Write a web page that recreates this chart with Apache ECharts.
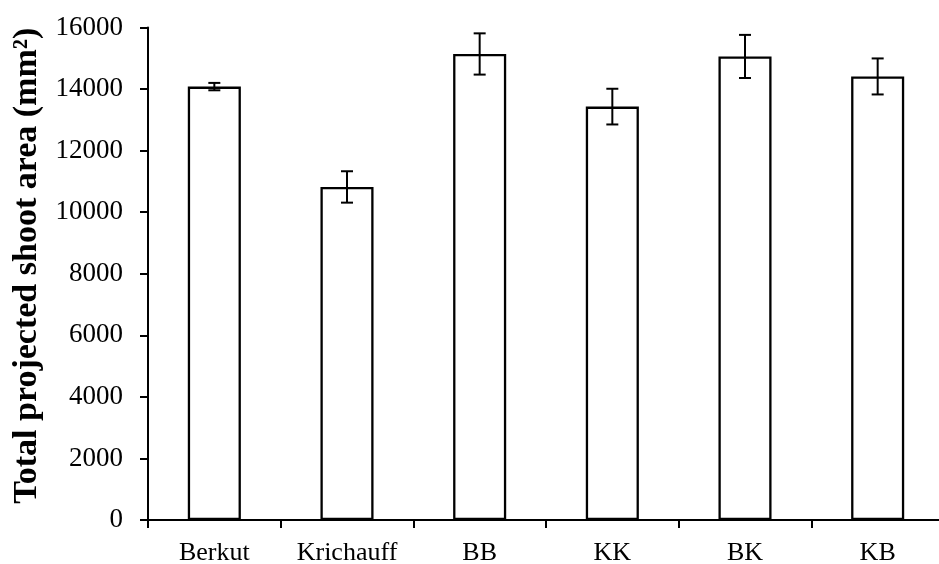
<!DOCTYPE html>
<html>
<head>
<meta charset="utf-8">
<script src="https://cdn.jsdelivr.net/npm/echarts@6/dist/echarts.min.js"></script>
<style>html,body{margin:0;padding:0;background:#fff}#c{width:939px;height:564px}</style>
</head>
<body>
<div id="c"></div>
<script>
const categories = ['Berkut', 'Krichauff', 'BB', 'KK', 'BK', 'KB'];
const means = [14080, 10820, 15140, 13430, 15060, 14410];
const errors = [120, 510, 670, 580, 700, 585];
const yTicks = { min: 0, max: 16000, interval: 2000 };

const chart = echarts.init(document.getElementById('c'));
const font = '"Liberation Serif", "Times New Roman", serif';
chart.setOption({
  animation: false,
  grid: { left: 148, top: 27.5, width: 796, bottom: 44, outerBoundsMode: 'none', containLabel: false },
  xAxis: {
    type: 'category',
    data: categories,
    boundaryGap: true,
    axisLine: { lineStyle: { color: '#000', width: 2 } },
    axisTick: { show: true, length: 8, lineStyle: { color: '#000', width: 2 } },
    axisLabel: { color: '#000', fontFamily: font, fontSize: 26, margin: 20 }
  },
  yAxis: {
    type: 'value',
    min: yTicks.min, max: yTicks.max, interval: yTicks.interval,
    splitLine: { show: false },
    axisLine: { show: true, lineStyle: { color: '#000', width: 2 } },
    axisTick: { show: true, length: 8, lineStyle: { color: '#000', width: 2 } },
    axisLabel: { color: '#000', fontFamily: font, fontSize: 27, margin: 25, formatter: v => String(v) },
    name: 'Total projected shoot area (mm²)',
    nameLocation: 'middle',
    nameGap: 96,
    nameTextStyle: { color: '#000', fontFamily: font, fontSize: 34, fontWeight: 'bold', padding: [0, 0, 0, 16] }
  },
  series: [
    {
      type: 'bar',
      data: means,
      barWidth: '40%',
      itemStyle: { color: '#fff', borderColor: '#000', borderWidth: 2.3 },
      z: 2
    },
    {
      type: 'custom',
      z: 3,
      data: means.map((m, i) => [i, m - errors[i], m + errors[i]]),
      renderItem: function (params, api) {
        const lo = api.coord([api.value(0), api.value(1)]);
        const hi = api.coord([api.value(0), api.value(2)]);
        const hw = 6;
        const st = { stroke: '#000', lineWidth: 2 };
        return {
          type: 'group',
          children: [
            { type: 'line', shape: { x1: hi[0], y1: hi[1], x2: lo[0], y2: lo[1] }, style: st },
            { type: 'line', shape: { x1: hi[0] - hw, y1: hi[1], x2: hi[0] + hw, y2: hi[1] }, style: st },
            { type: 'line', shape: { x1: lo[0] - hw, y1: lo[1], x2: lo[0] + hw, y2: lo[1] }, style: st }
          ]
        };
      }
    }
  ]
});
</script>
</body>
</html>
